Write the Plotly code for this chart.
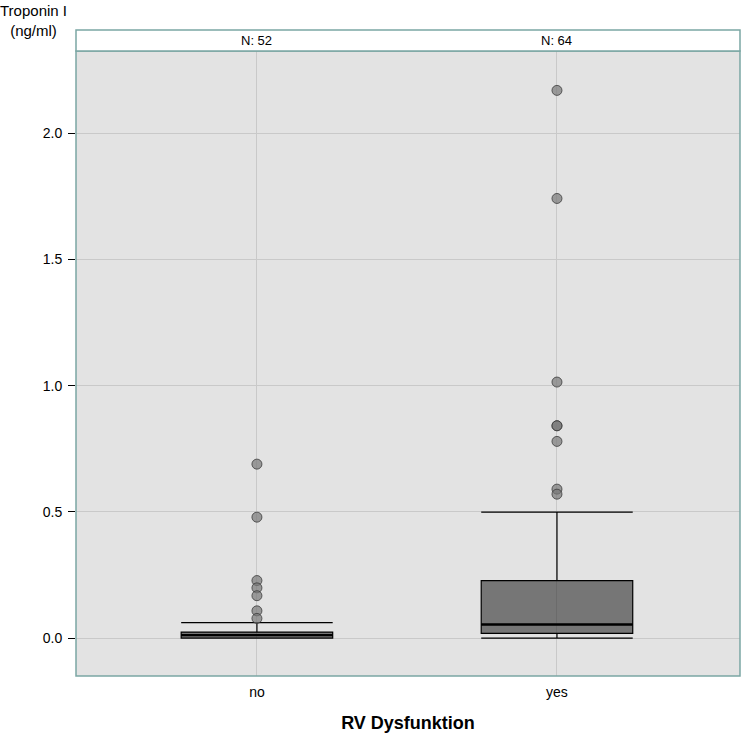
import plotly.graph_objects as go

categories = ["no", "yes"]
n_labels = ["N: 52", "N: 64"]
q1 = [0.0, 0.019]
median = [0.012, 0.054]
q3 = [0.024, 0.228]
lower_fence = [0.0, 0.0]
upper_fence = [0.061, 0.499]
outliers_no = [0.689, 0.479, 0.228, 0.199, 0.168, 0.108, 0.078]
outliers_yes = [2.169, 1.741, 1.014, 0.841, 0.841, 0.779, 0.590, 0.570]

y_ticks = [0.0, 0.5, 1.0, 1.5, 2.0]
y_tick_text = ["0.0", "0.5", "1.0", "1.5", "2.0"]

FONT = "Liberation Sans, Arial, sans-serif"
BORDER = "#7ba6a4"

fig = go.Figure()

fig.add_trace(go.Box(
    x=categories, q1=q1, median=median, q3=q3,
    lowerfence=lower_fence, upperfence=upper_fence,
    boxpoints=False, width=0.505, whiskerwidth=1,
    fillcolor="rgba(45,45,45,0.6)",
    line=dict(color="black", width=1.2),
    showlegend=False, hoverinfo="skip",
))

# thicker median lines
for i, c in enumerate(categories):
    fig.add_trace(go.Scatter(
        x=[i - 0.2525, i + 0.2525], y=[median[i], median[i]],
        xaxis="x2", mode="lines", line=dict(color="black", width=2.4),
        showlegend=False, hoverinfo="skip",
    ))

for c, vals in zip(categories, [outliers_no, outliers_yes]):
    fig.add_trace(go.Scatter(
        x=[c] * len(vals), y=vals, mode="markers",
        marker=dict(size=10, color="rgba(120,120,120,0.7)",
                    line=dict(color="rgba(60,60,60,0.8)", width=1)),
        showlegend=False, hoverinfo="skip",
    ))

xrange = [-0.603, 1.61]
fig.update_layout(
    width=742, height=733,
    margin=dict(l=76, r=2, t=51, b=57),
    paper_bgcolor="white", plot_bgcolor="#e3e3e3",
    font=dict(family=FONT, size=14, color="black"),
    xaxis=dict(
        type="category", range=xrange, showgrid=True, gridcolor="#c9c9c9",
        gridwidth=1, ticks="", tickfont=dict(size=14), zeroline=False,
        showline=False, ticklabelstandoff=6,
        title=dict(text="<b>RV Dysfunktion</b>", font=dict(size=18), standoff=18),
    ),
    xaxis2=dict(overlaying="x", range=xrange, visible=False),
    yaxis=dict(
        range=[-0.15, 2.325], tickvals=y_ticks, ticktext=y_tick_text,
        showgrid=True, gridcolor="#c9c9c9", gridwidth=1, zeroline=False,
        ticks="outside", ticklen=7, tickcolor="black", tickwidth=1,
        ticklabelstandoff=3, tickfont=dict(size=14), showline=False,
    ),
    shapes=[
        dict(type="rect", xref="paper", yref="paper", x0=0, x1=1, y0=0, y1=1,
             line=dict(color=BORDER, width=1.5), fillcolor="rgba(0,0,0,0)", layer="above"),
        dict(type="rect", xref="paper", yref="paper", x0=0, x1=1, y0=1, y1=1 + 21 / 625,
             line=dict(color=BORDER, width=1.5), fillcolor="white", layer="above"),
    ],
    annotations=[
        dict(text="Troponin I<br>(ng/ml)", xref="paper", yref="paper",
             x=-78 / 664, y=1 + 51 / 625, xanchor="left", yanchor="top",
             showarrow=False, align="center", font=dict(size=15)),
    ] + [
        dict(text=t, xref="x", yref="paper", x=c, y=1 + 10.5 / 625,
             yanchor="middle", showarrow=False, font=dict(size=13))
        for c, t in zip(categories, n_labels)
    ],
)

fig.write_html("out.html", config={"displayModeBar": False},
               post_script="document.body.style.margin='0';document.body.style.overflow='hidden';")
